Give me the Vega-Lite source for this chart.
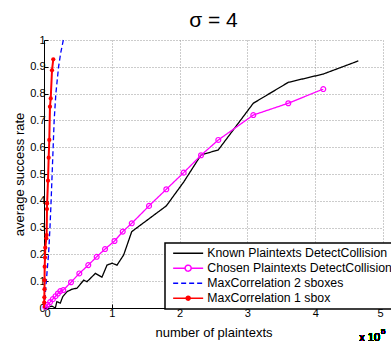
{
  "$schema": "https://vega.github.io/schema/vega-lite/v6.json",
  "width": 339,
  "height": 268,
  "autosize": {"type": "none"},
  "padding": {"left": 44, "top": 40, "right": 8, "bottom": 34},
  "config": {
    "font": "Liberation Sans",
    "view": {"stroke": null},
    "axis": {
      "domainColor": "#000",
      "tickColor": "#000",
      "labelColor": "#000",
      "titleColor": "#000",
      "labelFontSize": 11,
      "titleFontSize": 13,
      "titleFontWeight": "normal",
      "gridColor": "#999",
      "gridDash": [1, 2],
      "gridOpacity": 1,
      "tickSize": -4,
      "labelPadding": 3
    }
  },
  "title": {"text": "σ = 4", "fontSize": 21, "fontWeight": "normal", "font": "Liberation Sans", "color": "#000", "offset": 3},
  "data": {
    "values": [
      {"series": "Known Plaintexts DetectCollision", "n": 0, "rate": 0},
      {"series": "Known Plaintexts DetectCollision", "n": 11800, "rate": 0.007},
      {"series": "Known Plaintexts DetectCollision", "n": 16700, "rate": 0.0},
      {"series": "Known Plaintexts DetectCollision", "n": 19000, "rate": 0.024},
      {"series": "Known Plaintexts DetectCollision", "n": 24000, "rate": 0.018},
      {"series": "Known Plaintexts DetectCollision", "n": 27600, "rate": 0.042},
      {"series": "Known Plaintexts DetectCollision", "n": 34000, "rate": 0.061},
      {"series": "Known Plaintexts DetectCollision", "n": 41300, "rate": 0.07},
      {"series": "Known Plaintexts DetectCollision", "n": 48700, "rate": 0.074},
      {"series": "Known Plaintexts DetectCollision", "n": 58600, "rate": 0.104},
      {"series": "Known Plaintexts DetectCollision", "n": 63400, "rate": 0.098},
      {"series": "Known Plaintexts DetectCollision", "n": 75700, "rate": 0.129},
      {"series": "Known Plaintexts DetectCollision", "n": 85500, "rate": 0.115},
      {"series": "Known Plaintexts DetectCollision", "n": 92900, "rate": 0.16},
      {"series": "Known Plaintexts DetectCollision", "n": 100300, "rate": 0.167},
      {"series": "Known Plaintexts DetectCollision", "n": 107700, "rate": 0.16},
      {"series": "Known Plaintexts DetectCollision", "n": 117500, "rate": 0.198},
      {"series": "Known Plaintexts DetectCollision", "n": 129400, "rate": 0.285},
      {"series": "Known Plaintexts DetectCollision", "n": 180400, "rate": 0.381},
      {"series": "Known Plaintexts DetectCollision", "n": 206000, "rate": 0.47},
      {"series": "Known Plaintexts DetectCollision", "n": 231600, "rate": 0.571},
      {"series": "Known Plaintexts DetectCollision", "n": 257100, "rate": 0.59},
      {"series": "Known Plaintexts DetectCollision", "n": 308700, "rate": 0.764},
      {"series": "Known Plaintexts DetectCollision", "n": 360300, "rate": 0.842},
      {"series": "Known Plaintexts DetectCollision", "n": 411900, "rate": 0.873},
      {"series": "Known Plaintexts DetectCollision", "n": 463600, "rate": 0.922},

      {"series": "Chosen Plaintexts DetectCollision", "n": 0, "rate": 0},
      {"series": "Chosen Plaintexts DetectCollision", "n": 2000, "rate": 0.004},
      {"series": "Chosen Plaintexts DetectCollision", "n": 5000, "rate": 0.012},
      {"series": "Chosen Plaintexts DetectCollision", "n": 9000, "rate": 0.022},
      {"series": "Chosen Plaintexts DetectCollision", "n": 13000, "rate": 0.033},
      {"series": "Chosen Plaintexts DetectCollision", "n": 17000, "rate": 0.044},
      {"series": "Chosen Plaintexts DetectCollision", "n": 20500, "rate": 0.054},
      {"series": "Chosen Plaintexts DetectCollision", "n": 24000, "rate": 0.063},
      {"series": "Chosen Plaintexts DetectCollision", "n": 28500, "rate": 0.067},
      {"series": "Chosen Plaintexts DetectCollision", "n": 39800, "rate": 0.096},
      {"series": "Chosen Plaintexts DetectCollision", "n": 52100, "rate": 0.129},
      {"series": "Chosen Plaintexts DetectCollision", "n": 65300, "rate": 0.16},
      {"series": "Chosen Plaintexts DetectCollision", "n": 77700, "rate": 0.191},
      {"series": "Chosen Plaintexts DetectCollision", "n": 90000, "rate": 0.22},
      {"series": "Chosen Plaintexts DetectCollision", "n": 104000, "rate": 0.25},
      {"series": "Chosen Plaintexts DetectCollision", "n": 116100, "rate": 0.285},
      {"series": "Chosen Plaintexts DetectCollision", "n": 129400, "rate": 0.316},
      {"series": "Chosen Plaintexts DetectCollision", "n": 154900, "rate": 0.381},
      {"series": "Chosen Plaintexts DetectCollision", "n": 180400, "rate": 0.443},
      {"series": "Chosen Plaintexts DetectCollision", "n": 206000, "rate": 0.505},
      {"series": "Chosen Plaintexts DetectCollision", "n": 231600, "rate": 0.57},
      {"series": "Chosen Plaintexts DetectCollision", "n": 257100, "rate": 0.627},
      {"series": "Chosen Plaintexts DetectCollision", "n": 308700, "rate": 0.72},
      {"series": "Chosen Plaintexts DetectCollision", "n": 360300, "rate": 0.764},
      {"series": "Chosen Plaintexts DetectCollision", "n": 411900, "rate": 0.817},

      {"series": "MaxCorrelation 2 sboxes", "n": 0, "rate": 0},
      {"series": "MaxCorrelation 2 sboxes", "n": 1500, "rate": 0.04},
      {"series": "MaxCorrelation 2 sboxes", "n": 3400, "rate": 0.1},
      {"series": "MaxCorrelation 2 sboxes", "n": 5000, "rate": 0.15},
      {"series": "MaxCorrelation 2 sboxes", "n": 6700, "rate": 0.2},
      {"series": "MaxCorrelation 2 sboxes", "n": 8800, "rate": 0.3},
      {"series": "MaxCorrelation 2 sboxes", "n": 10500, "rate": 0.4},
      {"series": "MaxCorrelation 2 sboxes", "n": 12000, "rate": 0.5},
      {"series": "MaxCorrelation 2 sboxes", "n": 13500, "rate": 0.6},
      {"series": "MaxCorrelation 2 sboxes", "n": 15000, "rate": 0.7},
      {"series": "MaxCorrelation 2 sboxes", "n": 17500, "rate": 0.8},
      {"series": "MaxCorrelation 2 sboxes", "n": 21500, "rate": 0.9},
      {"series": "MaxCorrelation 2 sboxes", "n": 24500, "rate": 0.95},
      {"series": "MaxCorrelation 2 sboxes", "n": 28500, "rate": 1.0},

      {"series": "MaxCorrelation 1 sbox", "n": 0, "rate": 0},
      {"series": "MaxCorrelation 1 sbox", "n": 300, "rate": 0.02},
      {"series": "MaxCorrelation 1 sbox", "n": 500, "rate": 0.04},
      {"series": "MaxCorrelation 1 sbox", "n": 700, "rate": 0.07},
      {"series": "MaxCorrelation 1 sbox", "n": 800, "rate": 0.104},
      {"series": "MaxCorrelation 1 sbox", "n": 1000, "rate": 0.154},
      {"series": "MaxCorrelation 1 sbox", "n": 1500, "rate": 0.188},
      {"series": "MaxCorrelation 1 sbox", "n": 1900, "rate": 0.225},
      {"series": "MaxCorrelation 1 sbox", "n": 3400, "rate": 0.26},
      {"series": "MaxCorrelation 1 sbox", "n": 3900, "rate": 0.272},
      {"series": "MaxCorrelation 1 sbox", "n": 4400, "rate": 0.369},
      {"series": "MaxCorrelation 1 sbox", "n": 4600, "rate": 0.39},
      {"series": "MaxCorrelation 1 sbox", "n": 5900, "rate": 0.475},
      {"series": "MaxCorrelation 1 sbox", "n": 6900, "rate": 0.561},
      {"series": "MaxCorrelation 1 sbox", "n": 7800, "rate": 0.627},
      {"series": "MaxCorrelation 1 sbox", "n": 8800, "rate": 0.751},
      {"series": "MaxCorrelation 1 sbox", "n": 9900, "rate": 0.782},
      {"series": "MaxCorrelation 1 sbox", "n": 11800, "rate": 0.887},
      {"series": "MaxCorrelation 1 sbox", "n": 13700, "rate": 0.928}
    ]
  },
  "encoding": {
    "x": {
      "field": "n", "type": "quantitative",
      "scale": {"domain": [0, 500000], "nice": false},
      "axis": {
        "values": [0, 100000, 200000, 300000, 400000, 500000],
        "labelExpr": "'' + (datum.value / 100000)",
        "title": "number of plaintexts",
        "titlePadding": 8
      }
    },
    "y": {
      "field": "rate", "type": "quantitative",
      "scale": {"domain": [0, 1], "nice": false},
      "axis": {
        "values": [0, 0.1, 0.2, 0.3, 0.4, 0.5, 0.6, 0.7, 0.8, 0.9, 1],
        "format": "~g",
        "title": "average success rate",
        "titlePadding": 3
      }
    }
  },
  "layer": [
    {
      "transform": [{"filter": "datum.series !== 'MaxCorrelation 1 sbox'"}],
      "mark": {"type": "line", "strokeWidth": 1.3},
      "encoding": {
        "color": {
          "field": "series", "type": "nominal",
          "scale": {
            "domain": ["Known Plaintexts DetectCollision", "Chosen Plaintexts DetectCollision", "MaxCorrelation 2 sboxes", "MaxCorrelation 1 sbox"],
            "range": ["#000000", "#ff00ff", "#0000ff", "#ff0000"]
          },
          "legend": {
            "title": null,
            "orient": "none",
            "legendX": 121,
            "legendY": 203,
            "padding": 4,
            "rowPadding": 2,
            "labelFontSize": 12.3,
            "labelOffset": 13,
            "labelLimit": 400,
            "labelColor": "#000",
            "symbolType": "M-3,0L3,0",
            "symbolSize": 100,
            "symbolStrokeWidth": 1.5,
            "symbolOffset": 13,
            "strokeColor": "#000",
            "fillColor": "#fff",
            "encode": {
              "legend": {"update": {"strokeWidth": {"value": 1.5}}},
              "symbols": {
                "update": {
                  "shape": {"signal": "datum.value === 'Chosen Plaintexts DetectCollision' ? 'M-3,0L-0.6,0M0.6,0L3,0M0.6,0A0.6,0.6,0,1,1,-0.6,0A0.6,0.6,0,1,1,0.6,0' : (datum.value === 'MaxCorrelation 1 sbox' ? 'M-3,0L3,0M0.4,0A0.4,0.4,0,1,1,-0.4,0A0.4,0.4,0,1,1,0.4,0' : 'M-3,0L3,0')"},
                  "fill": {"signal": "datum.value === 'MaxCorrelation 1 sbox' ? '#ff0000' : 'transparent'"}
                }
              }
            }
          }
        },
        "strokeDash": {
          "field": "series", "type": "nominal",
          "scale": {
            "domain": ["Known Plaintexts DetectCollision", "Chosen Plaintexts DetectCollision", "MaxCorrelation 2 sboxes", "MaxCorrelation 1 sbox"],
            "range": [[1, 0], [1, 0], [5, 3], [1, 0]]
          },
          "legend": null
        }
      }
    },
    {
      "transform": [{"filter": "datum.series === 'Chosen Plaintexts DetectCollision' && datum.n > 0"}],
      "mark": {"type": "point", "shape": "circle", "filled": false, "size": 24, "strokeWidth": 1.2, "color": "#ff00ff", "opacity": 1}
    },
    {
      "transform": [{"filter": "datum.series === 'MaxCorrelation 1 sbox'"}],
      "mark": {"type": "line", "strokeWidth": 2},
      "encoding": {
        "color": {"field": "series", "type": "nominal"},
        "strokeDash": {"field": "series", "type": "nominal"}
      }
    },
    {
      "transform": [{"filter": "datum.series === 'MaxCorrelation 1 sbox' && datum.n > 0"}],
      "mark": {"type": "point", "shape": "circle", "filled": true, "size": 18, "color": "#ff0000", "opacity": 1}
    },
    {
      "mark": {"type": "text", "text": "x 10", "fontSize": 11, "align": "right", "baseline": "alphabetic", "dx": -3, "color": "#000"},
      "encoding": {"x": {"datum": 500000}, "y": {"datum": -0.122}}
    },
    {
      "mark": {"type": "text", "text": "5", "fontSize": 8, "align": "left", "baseline": "alphabetic", "dx": -2, "color": "#000"},
      "encoding": {"x": {"datum": 500000}, "y": {"datum": -0.098}}
    }
  ]
}
